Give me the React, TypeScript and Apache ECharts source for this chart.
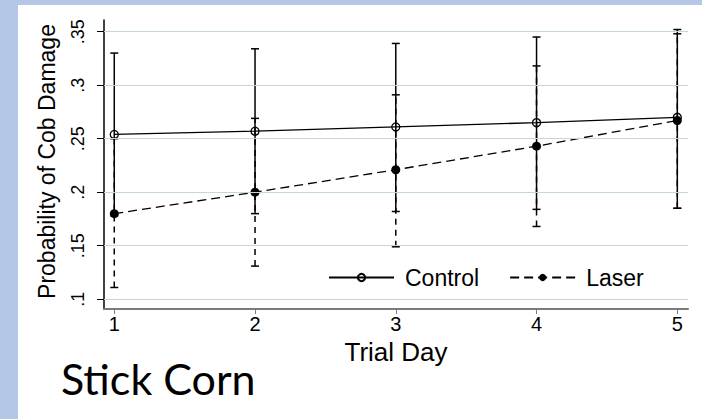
import React, { useEffect, useRef } from "react";
import * as echarts from "echarts";

const days = [1, 2, 3, 4, 5];
const controlMean = [0.254, 0.257, 0.261, 0.265, 0.27];
const controlLow = [0.178, 0.18, 0.182, 0.184, 0.185];
const controlHigh = [0.33, 0.334, 0.339, 0.345, 0.352];
const laserMean = [0.18, 0.2, 0.221, 0.243, 0.267];
const laserLow = [0.111, 0.131, 0.149, 0.168, 0.185];
const laserHigh = [0.25, 0.269, 0.291, 0.318, 0.348];
const yTicks = [0.1, 0.15, 0.2, 0.25, 0.3, 0.35];
const xTicks = [1, 2, 3, 4, 5];
const seriesNames = ["Control", "Laser"];

const FONT = "'Liberation Sans', Arial, Helvetica, sans-serif";

function errorBars(name: string, low: number[], high: number[], dash: number[] | null) {
  return {
    type: "custom",
    name,
    silent: true,
    z: 2,
    data: days.map((d, i) => [d, low[i], high[i]]),
    encode: { x: 0, y: [1, 2] },
    renderItem: (_params: any, api: any) => {
      const x = api.value(0);
      const lo = api.coord([x, api.value(1)]);
      const hi = api.coord([x, api.value(2)]);
      const hw = 4;
      const capStyle = { stroke: "#000", lineWidth: 1.5 };
      const barStyle: any = { stroke: "#000", lineWidth: 1.5 };
      if (dash) barStyle.lineDash = dash;
      return {
        type: "group",
        children: [
          { type: "line", shape: { x1: lo[0], y1: lo[1], x2: hi[0], y2: hi[1] }, style: barStyle },
          { type: "line", shape: { x1: lo[0] - hw, y1: lo[1], x2: lo[0] + hw, y2: lo[1] }, style: capStyle },
          { type: "line", shape: { x1: hi[0] - hw, y1: hi[1], x2: hi[0] + hw, y2: hi[1] }, style: capStyle },
        ],
      };
    },
  };
}

export default function App() {
  const ref = useRef<HTMLDivElement>(null);
  useEffect(() => {
    document.body.style.margin = "0";
    if (!ref.current) return;
    const chart = echarts.init(ref.current, undefined, { renderer: "svg" });
    chart.setOption({
      animation: false,
      backgroundColor: "transparent",
      textStyle: { fontFamily: FONT, color: "#000" },
      graphic: [
        {
          type: "text",
          left: 61,
          top: 357,
          style: { text: "Stick Corn", fontSize: 43, fontFamily: "Lato, 'Open Sans', sans-serif", fill: "#000" },
        },
      ],
      grid: { left: 104, top: 20, right: 14, bottom: 110, containLabel: false },
      legend: {
        data: seriesNames,
        left: 328,
        top: 266,
        padding: 0,
        itemWidth: 65,
        itemHeight: 9,
        itemGap: 30,
        selectedMode: false,
        textStyle: { fontSize: 23, color: "#000", fontFamily: FONT, padding: [0, 0, 0, 6] },
      },
      xAxis: {
        type: "value",
        min: 0.927,
        max: 5.076,
        axisLine: { show: true, lineStyle: { color: "#7a7a7a", width: 2 } },
        axisTick: { show: true, customValues: xTicks, length: 5, lineStyle: { color: "#7a7a7a", width: 1 } },
        axisLabel: { customValues: xTicks, fontSize: 20, color: "#000", margin: 5, fontFamily: FONT },
        splitLine: { show: false },
        name: "Trial Day",
        nameLocation: "middle",
        nameGap: 27,
        nameTextStyle: { fontSize: 26, color: "#000", fontFamily: FONT },
      },
      yAxis: {
        type: "value",
        min: 0.0909,
        max: 0.3609,
        axisLine: { show: true, lineStyle: { color: "#000", width: 1.5 } },
        axisTick: { show: true, customValues: yTicks, length: 7, lineStyle: { color: "#000", width: 1 } },
        axisLabel: {
          customValues: yTicks,
          rotate: 90,
          fontSize: 18,
          margin: 17,
          color: "#000",
          fontFamily: FONT,
          formatter: (v: number) => (Math.round(v * 100) / 100).toString().replace(/^0/, ""),
        },
        splitLine: { show: false },
        name: "Probability of Cob Damage",
        nameLocation: "middle",
        nameGap: 46,
        nameTextStyle: { fontSize: 23, color: "#000", fontFamily: FONT, padding: [0, 0, 0, 6] },
      },
      series: [
        errorBars("Control CI", controlLow, controlHigh, null),
        errorBars("Laser CI", laserLow, laserHigh, [6, 5]),
        {
          type: "line",
          name: "Control",
          data: days.map((d, i) => [d, controlMean[i]]),
          symbol: "circle",
          symbolSize: 8,
          z: 3,
          itemStyle: { color: "rgba(255,255,255,0)", borderColor: "#000", borderWidth: 1.3 },
          lineStyle: { color: "#000", width: 1.3 },
          markLine: {
            silent: true,
            symbol: ["none", "none"],
            label: { show: false },
            emphasis: { disabled: true },
            animation: false,
            lineStyle: { color: "#c5d5dd", width: 1, type: "solid" },
            data: yTicks.map((v) => ({ yAxis: v })),
          },
        },
        {
          type: "line",
          name: "Laser",
          data: days.map((d, i) => [d, laserMean[i]]),
          symbol: "circle",
          symbolSize: 9,
          z: 3,
          itemStyle: { color: "#000" },
          lineStyle: { color: "#000", width: 1.3, type: [9, 5] },
        },
      ],
    });
    return () => chart.dispose();
  }, []);
  return (
    <div style={{ position: "relative", width: 702, height: 419, background: "#b4c7e7", overflow: "hidden" }}>
      <div style={{ position: "absolute", left: 18, top: 5, width: 684, height: 414, background: "#ffffff" }} />
      <div ref={ref} style={{ position: "absolute", left: 0, top: 0, width: 702, height: 419 }} />
    </div>
  );
}
